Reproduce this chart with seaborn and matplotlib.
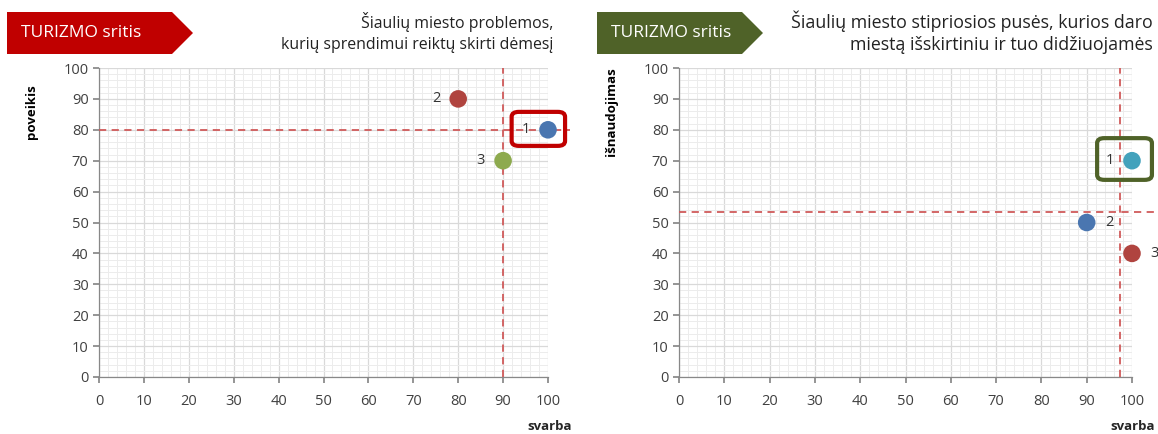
import numpy as np
import pandas as pd
import matplotlib.pyplot as plt
import seaborn as sns
from matplotlib.patches import Polygon, FancyBboxPatch
from matplotlib.ticker import MultipleLocator

sns.set_theme(style="white")
plt.rcParams['font.family'] = ['Open Sans', 'DejaVu Sans']

# left panel: problems
prob_ids = ['1', '2', '3']
prob_svarba = [100, 80, 90]
prob_poveikis = [80, 90, 70]
prob_colors = ['#4A76B0', '#B0443F', '#8DAA4E']
prob_vline, prob_hline = 90, 80

# right panel: strengths
str_ids = ['1', '2', '3']
str_svarba = [100, 90, 100]
str_isnaud = [70, 50, 40]
str_colors = ['#43A2BC', '#4A76B0', '#B0443F']
str_vline, str_hline = 97.3, 53.3

W, H = 1158, 434
fig = plt.figure(figsize=(W / 100, H / 100), dpi=100)


def px(x0, y0, w, h):
    return [x0 / W, 1 - (y0 + h) / H, w / W, h / H]


def banner(x0, x1, color, text):
    y0, y1 = 12, 54
    pts = [(x0, y0), (x1 - 21, y0), (x1, (y0 + y1) / 2), (x1 - 21, y1), (x0, y1)]
    pts = [(x / W, 1 - y / H) for x, y in pts]
    fig.patches.append(Polygon(pts, closed=True, transform=fig.transFigure,
                               facecolor=color, edgecolor='none'))
    fig.text((x0 + 14) / W, 1 - 33 / H, text, color='white', fontsize=12.5,
             va='center', ha='left')


def panel(rect, ids, xs, ys, colors, vline, hline, ylabel, label_side, box, box_color):
    ax = fig.add_axes(rect)
    df = pd.DataFrame({'id': ids, 'x': xs, 'y': ys})
    sns.scatterplot(data=df, x='x', y='y', hue='id', palette=colors, s=160,
                    edgecolor='none', legend=False, ax=ax, zorder=5, clip_on=False)
    ax.set_xlim(0, 100)
    ax.set_ylim(0, 100)
    ax.xaxis.set_major_locator(MultipleLocator(10))
    ax.yaxis.set_major_locator(MultipleLocator(10))
    ax.xaxis.set_minor_locator(MultipleLocator(2))
    ax.yaxis.set_minor_locator(MultipleLocator(2))
    ax.grid(which='major', color='#d9d9d9', lw=0.9)
    ax.grid(which='minor', color='#ececec', lw=0.7)
    ax.set_axisbelow(True)
    for s in ['top', 'right']:
        ax.spines[s].set_visible(False)
    for s in ['left', 'bottom']:
        ax.spines[s].set_color('#888888')
        ax.spines[s].set_linewidth(0.9)
    ax.tick_params(which='major', length=4, color='#888888', labelsize=10.5,
                   labelcolor='#404040', left=True, bottom=True)
    ax.tick_params(axis='x', pad=8)
    ax.set_xlabel('')
    ax.set_ylabel('')
    ax.axvline(vline, color='#D05A5A', ls=(0, (4, 3)), lw=1.3, zorder=3)
    ax.axhline(hline, color='#D05A5A', ls=(0, (4, 3)), lw=1.3, zorder=3, clip_on=False,
               xmax=1.05)
    for i, x, y, side in zip(ids, xs, ys, label_side):
        if side == 'l':
            ax.annotate(i, (x, y), xytext=(-13, 0), textcoords='offset points',
                        ha='right', va='center', fontsize=10.5, color='#333333')
        else:
            ax.annotate(i, (x, y), xytext=(13, 0), textcoords='offset points',
                        ha='left', va='center', fontsize=10.5, color='#333333')
    bx0, by0, bx1, by1 = box
    ax.add_patch(FancyBboxPatch((bx0, by0), bx1 - bx0, by1 - by0,
                                boxstyle='round,pad=0,rounding_size=1.6',
                                facecolor='none', edgecolor=box_color, lw=3,
                                clip_on=False, zorder=6))
    ax.set_ylabel(ylabel, fontsize=9.5, fontweight='bold', color='black')
    ax.yaxis.set_label_coords(-0.135, 0.86)
    return ax


panel(px(99, 68, 449, 309), prob_ids, prob_svarba, prob_poveikis, prob_colors,
      prob_vline, prob_hline, 'poveikis', ['l', 'l', 'l'],
      (91.9, 74.8, 103.8, 85.8), '#C00000')
panel(px(679, 68, 453, 309), str_ids, str_svarba, str_isnaud, str_colors,
      str_vline, str_hline, 'išnaudojimas', ['l', 'r', 'r'],
      (92.3, 63.8, 104.4, 77.3), '#4F6228')

banner(7, 193, '#C00000', 'TURIZMO sritis')
banner(597, 763, '#4F6228', 'TURIZMO sritis')

fig.text(553 / W, 1 - 22 / H, 'Šiaulių miesto problemos,', ha='right', va='center',
         fontsize=11.4, color='#222222')
fig.text(553 / W, 1 - 45 / H, 'kurių sprendimui reiktų skirti dėmesį', ha='right',
         va='center', fontsize=11.4, color='#222222')
fig.text(1153 / W, 1 - 21 / H, 'Šiaulių miesto stipriosios pusės, kurios daro',
         ha='right', va='center', fontsize=12.8, color='#222222')
fig.text(1153 / W, 1 - 45 / H, 'miestą išskirtiniu ir tuo didžiuojamės', ha='right',
         va='center', fontsize=12.8, color='#222222')

fig.text(572 / W, 1 - 426 / H, 'svarba', ha='right', va='center', fontsize=9.5,
         fontweight='bold')
fig.text(1155 / W, 1 - 426 / H, 'svarba', ha='right', va='center', fontsize=9.5,
         fontweight='bold')

fig.savefig('out.png', dpi=100)
